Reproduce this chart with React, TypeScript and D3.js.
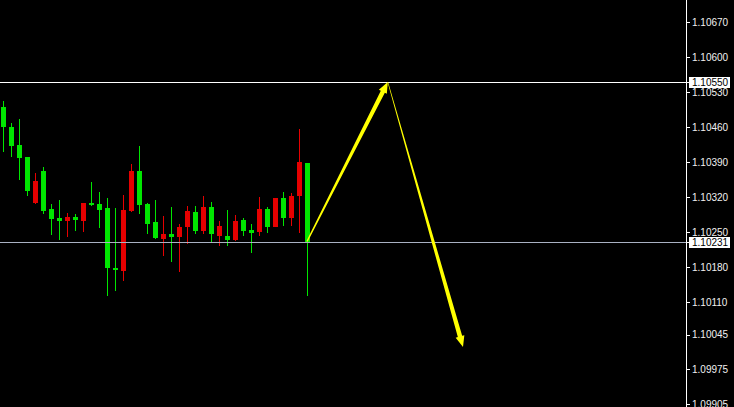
import React from "react";
import * as d3 from "d3";

const opens = [1.105, 1.1046, 1.10424, 1.104, 1.10308, 1.10372, 1.10296, 1.10278, 1.10272, 1.1028, 1.10272, 1.10308, 1.10306, 1.10298, 1.10178, 1.10172, 1.10292, 1.10372, 1.10306, 1.1027, 1.10236, 1.10246, 1.1024, 1.1026, 1.1029, 1.10252, 1.103, 1.10242, 1.10242, 1.10234, 1.10274, 1.10254, 1.1025, 1.10296, 1.1026, 1.10318, 1.10278, 1.10322, 1.10388];
const highs = [1.10512, 1.10468, 1.10476, 1.104, 1.10368, 1.1038, 1.10306, 1.10314, 1.10288, 1.10286, 1.10308, 1.1035, 1.1033, 1.10318, 1.10298, 1.10324, 1.10386, 1.10422, 1.10308, 1.10314, 1.10282, 1.103, 1.10266, 1.10302, 1.10302, 1.10322, 1.1031, 1.10272, 1.10294, 1.10284, 1.10278, 1.10266, 1.1032, 1.103, 1.10318, 1.1033, 1.10328, 1.10456, 1.10388];
const lows = [1.1041, 1.104, 1.10354, 1.10322, 1.10306, 1.10286, 1.10244, 1.10234, 1.1024, 1.10252, 1.1025, 1.10302, 1.10258, 1.10122, 1.10132, 1.10152, 1.1029, 1.10286, 1.10246, 1.10236, 1.10202, 1.1019, 1.1017, 1.10226, 1.10246, 1.10246, 1.1023, 1.10222, 1.10222, 1.10232, 1.10242, 1.10208, 1.10242, 1.10248, 1.1026, 1.10262, 1.10262, 1.10248, 1.10122];
const closes = [1.1046, 1.10422, 1.10398, 1.10332, 1.10352, 1.10292, 1.10276, 1.10272, 1.1028, 1.10274, 1.10308, 1.10304, 1.10294, 1.10178, 1.10174, 1.10294, 1.10372, 1.10304, 1.10266, 1.10238, 1.10246, 1.1024, 1.1026, 1.10292, 1.10252, 1.103, 1.10246, 1.10262, 1.10234, 1.10272, 1.10252, 1.10248, 1.10296, 1.1026, 1.10318, 1.10278, 1.10322, 1.1039, 1.10231];

const tickValues = [1.1067, 1.106, 1.1053, 1.1046, 1.1039, 1.1032, 1.1025, 1.1018, 1.1011, 1.10045, 1.09975, 1.09905];
const levelLine = 1.1055;
const bidPrice = 1.10231;

// arrows in (bar index, price)
const arrowUp = [[38, 1.10231], [48.1, 1.1055]];
const arrowDown = [[48.1, 1.1055], [57.5, 1.1002]];

const W = 734;
const H = 407;
const axisX = 686;

function taperedArrow(x1: number, y1: number, x2: number, y2: number, w0: number, w1: number, headW: number, headL: number) {
  const dx = x2 - x1, dy = y2 - y1;
  const len = Math.hypot(dx, dy);
  const ux = dx / len, uy = dy / len;
  const nx = -uy, ny = ux;
  const bx = x2 - ux * headL, by = y2 - uy * headL;
  const pts = [
    [x1 + nx * w0 / 2, y1 + ny * w0 / 2],
    [bx + nx * w1 / 2, by + ny * w1 / 2],
    [bx + nx * headW / 2, by + ny * headW / 2],
    [x2, y2],
    [bx - nx * headW / 2, by - ny * headW / 2],
    [bx - nx * w1 / 2, by - ny * w1 / 2],
    [x1 - nx * w0 / 2, y1 - ny * w0 / 2],
  ];
  return d3.line()(pts as [number, number][]) + "Z";
}

export default function App() {
  const x = d3.scaleLinear().domain([0, 38]).range([3, 307]);
  const y = d3.scaleLinear().domain([1.099, 1.10714]).range([H, 0]);
  const green = "#00e600";
  const red = "#e60000";
  const bodyW = 5;
  const font = "'Liberation Sans', Arial, sans-serif";

  return (
    <svg width={W} height={H} style={{ position: "fixed", left: 0, top: 0, background: "#000" }}>
      <rect x={0} y={0} width={W} height={H} fill="#000" />
      {opens.map((o, i) => {
        const c = closes[i];
        const col = c > o ? red : green;
        const cx = Math.round(x(i)) + 0.5;
        const top = Math.round(y(Math.max(o, c)));
        const bot = Math.round(y(Math.min(o, c)));
        return (
          <g key={i}>
            <line x1={cx} x2={cx} y1={Math.round(y(highs[i]))} y2={Math.round(y(lows[i]))} stroke={col} strokeWidth={1} />
            <rect x={cx - bodyW / 2} y={top} width={bodyW} height={Math.max(2, bot - top)} fill={col} />
          </g>
        );
      })}
      <line x1={0} x2={axisX} y1={Math.round(y(levelLine)) + 0.5} y2={Math.round(y(levelLine)) + 0.5} stroke="#ffffff" strokeWidth={1} />
      <line x1={0} x2={axisX} y1={Math.round(y(bidPrice)) + 0.5} y2={Math.round(y(bidPrice)) + 0.5} stroke="#a9b1c2" strokeWidth={1} />
      <path d={taperedArrow(x(arrowUp[0][0]), y(arrowUp[0][1]), x(arrowUp[1][0]), y(arrowUp[1][1]), 1.4, 4.5, 9, 11)} fill="#ffff00" />
      <path d={taperedArrow(x(arrowDown[0][0]), y(arrowDown[0][1]), x(arrowDown[1][0]), y(arrowDown[1][1]), 0.6, 4.5, 9, 11)} fill="#ffff00" />
      <line x1={axisX + 0.5} x2={axisX + 0.5} y1={0} y2={H} stroke="#ffffff" strokeWidth={1} />
      {tickValues.map((t) => (
        <g key={t}>
          <line x1={axisX} x2={axisX + 4} y1={Math.round(y(t)) + 0.5} y2={Math.round(y(t)) + 0.5} stroke="#ffffff" />
          <text x={692} y={y(t) + 3.5} fill="#f0f0f0" fontSize={10} fontFamily={font}>
            {t.toFixed(5)}
          </text>
        </g>
      ))}
      {[levelLine, bidPrice].map((v) => (
        <g key={"lab" + v}>
          <line x1={axisX} x2={axisX + 4} y1={Math.round(y(v)) + 0.5} y2={Math.round(y(v)) + 0.5} stroke="#ffffff" />
          <rect x={689} y={Math.round(y(v)) - 5} width={41} height={11} fill="#ffffff" />
          <text x={692} y={y(v) + 4} fill="#000" fontSize={10} fontFamily={font}>
            {v.toFixed(5)}
          </text>
        </g>
      ))}
    </svg>
  );
}
